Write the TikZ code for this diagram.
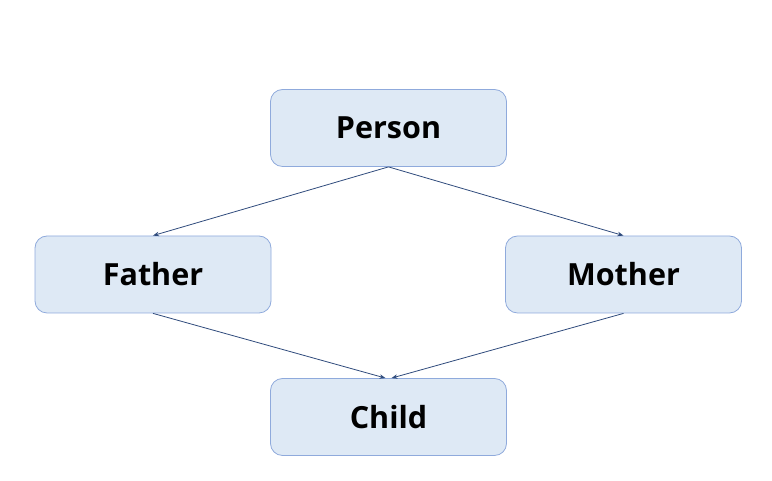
\documentclass[tikz,border=0pt]{standalone}
\usepackage{fontspec}
\setmainfont{Open Sans}
\usetikzlibrary{arrows.meta}
\definecolor{boxfill}{HTML}{DEE9F5}
\definecolor{boxline}{HTML}{8FAADC}
\definecolor{arrowcol}{HTML}{2F4B7C}
\tikzset{
  entity/.style={draw=boxline, fill=boxfill, line width=0.8pt, rounded corners=12pt,
    minimum width=236pt, minimum height=77pt, inner sep=0pt,
    font=\fontsize{30.5}{34}\selectfont\bfseries},
  link/.style={draw=arrowcol, line width=0.8pt, -{Stealth[length=6pt,width=4.5pt]}}
}
\begin{document}
\begin{tikzpicture}[x=1pt,y=1pt]
\useasboundingbox (0,0) rectangle (772,481);
\node[entity] (person) at (388.5,353) {Person};
\node[entity] (father) at (153,206.5) {Father};
\node[entity] (mother) at (623.5,206.5) {Mother};
\node[entity] (child) at (388.5,64) {Child};
\draw[link] (person.south) -- (father.north);
\draw[link] (person.south) -- (mother.north);
\draw[link] (father.south) -- ([xshift=-3pt]child.north);
\draw[link] (mother.south) -- ([xshift=3pt]child.north);
\end{tikzpicture}
\end{document}
